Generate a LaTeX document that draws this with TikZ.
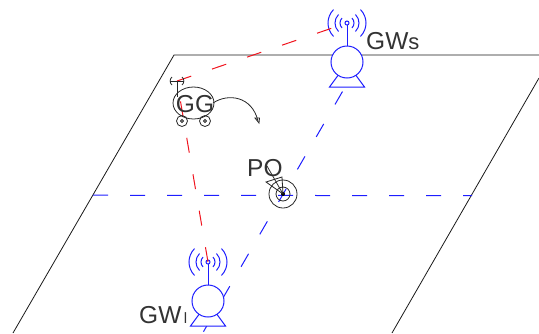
\documentclass[tikz,border=0pt]{standalone}
\usepackage{fontspec}
\setmainfont{Liberation Sans}
\definecolor{gwblue}{RGB}{30,30,255}
\definecolor{dashred}{RGB}{240,20,30}
\tikzset{
  plane/.style={black!90,line width=0.8pt},
  bluedash/.style={gwblue,line width=1pt,dash pattern=on 15pt off 22.5pt},
  bluedashh/.style={gwblue,line width=1pt,dash pattern=on 15pt off 22pt},
  reddash/.style={dashred,line width=1pt,dash pattern=on 15pt off 22pt},
  gw/.style={gwblue,line width=1pt},
  cart/.style={black!85,line width=0.8pt},
  lab/.style={text=black!80,font=\fontsize{24.5}{24.5}\selectfont,inner sep=0pt}
}
\newcommand{\gateway}[2]{%
  \begin{scope}[shift={(#1,#2)}]
    \draw[gw,fill=white] (-8.7,13) -- (-17.5,25) -- (17.5,25) -- (8.7,13);
    \draw[gw,fill=white] (0,0) circle (16);
    \draw[gw] (0,-16) -- (0,-37);
    \draw[gw] (0,-39) circle (2);
    \foreach \r in {7,12,19}{
      \draw[gw] ({\r*cos(45)},{-39-\r*sin(45)}) arc (45:-45:{\r} and {-\r});
      \draw[gw] ({-\r*cos(45)},{-39-\r*sin(45)}) arc (135:225:{\r} and {-\r});
    }
  \end{scope}}
\begin{document}
\begin{tikzpicture}[x=1pt,y=-1pt]
  \useasboundingbox (0,0) rectangle (539,333);
  \coordinate (tl) at (174,55);
  \coordinate (tr) at (539,55);
  \coordinate (bl) at (13,333);
  \coordinate (rt) at (539,78);
  \coordinate (rb) at (392,333);
  \coordinate (hl) at (93,195.2);
  \coordinate (hr) at (472,195.7);
  \coordinate (ds) at (342.5,91.5);
  \coordinate (dl) at (202.7,333);
  \coordinate (as) at (347,23);
  \coordinate (al) at (208,262);
  \coordinate (ct) at (177,81);
  \coordinate (po) at (283,194);
  \draw[plane] (bl) -- (tl) -- (tr);
  \draw[plane] (rt) -- (rb);
  \draw[bluedash] (ds) -- (dl);
  \draw[bluedashh] (hl) -- (hr);
  \gateway{347}{62}
  \gateway{208}{301}
  \draw[reddash] (ct) -- (as);
  \draw[reddash] (al) -- (ct);
  \node[lab,anchor=base west] (gws) at (366,49) {GW{\fontsize{22}{22}\selectfont s}};
  \node[lab,anchor=base west] (gwl) at (139,323) {GW{\fontsize{15}{15}\selectfont\,l}};
  % cart
  \draw[cart] (ct) -- (177,97);
  \draw[cart] (170,81) -- (184,81);
  \draw[cart] (172,77) .. controls (169.5,79) and (169.5,83) .. (172,85);
  \draw[cart] (182,77) .. controls (184.5,79) and (184.5,83) .. (182,85);
  \draw[cart] (193.5,103) ellipse (20.5 and 16);
  \foreach \x in {182,205}{
    \draw[cart] (\x,121) circle (5.5);
    \draw[cart] (\x,121) circle (1.5);
  }
  \node[lab,anchor=base] (gg) at (195,112) {GG};
  \coordinate (tip) at (258,121);
  \draw[cart] (213,103) .. controls (228,93) and (252,96) .. (tip);
  \draw[cart] (255,118) -- (259,123) -- (259.5,118) -- cycle;
  % PO
  \node[lab,anchor=base west] (polab) at (247,176) {PO};
  \draw[cart] (po) circle (14);
  \draw[cart] (po) circle (7);
  \fill[black] (po) circle (2);
  \draw[cart] (267,166) -- (po);
  \draw[cart] (266,182) -- (282,177) -- (po) -- cycle;
\end{tikzpicture}
\end{document}
